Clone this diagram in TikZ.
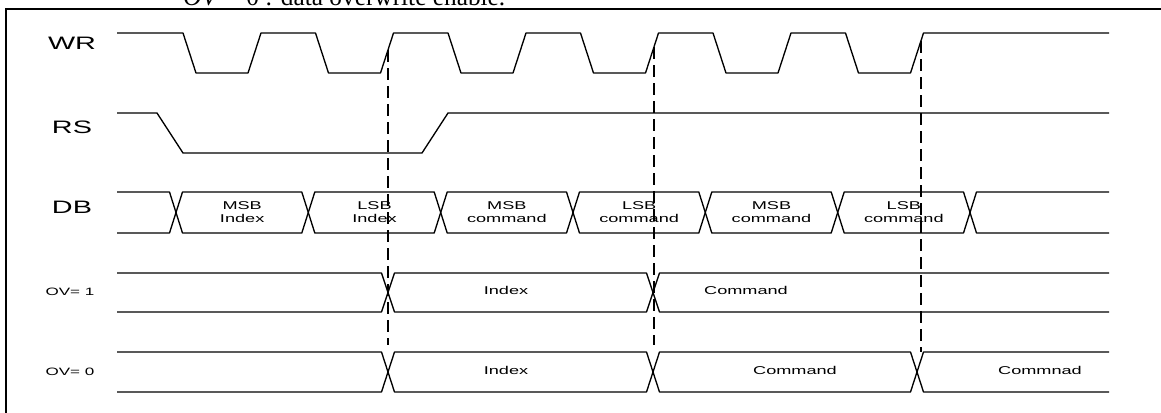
\documentclass[tikz,border=0pt]{standalone}
\usepackage{fontspec}
\setmainfont{Liberation Serif}
\newfontfamily\sigfont[FakeStretch=1.6]{Liberation Sans}

\begin{document}
\begin{tikzpicture}
    [
    x=0.75pt, y=-0.75pt,
    sig/.style={line width=1pt, line join=round},
    guide/.style={line width=1pt, dash pattern=on 9pt off 4.5pt},
    signame/.style={font=\sigfont\fontsize{13.5}{16}\selectfont},
    ovname/.style={font=\sigfont\fontsize{8}{10}\selectfont},
    cell/.style={font=\sigfont\fontsize{8.5}{9.75}\selectfont, align=center, inner sep=0pt}
    ]
    \useasboundingbox (0,0) rectangle (1161,412);

    % caption line cut by the frame, and the frame
    \node (caption) at (183,5) [anchor=base west, inner sep=0pt, font=\fontsize{19}{22}\selectfont] {\textit{OV} = 0 : data overwrite enable.};
    \draw [line width=1.5pt] (1170,9) -- (6,9) -- (6,420);

    % signal names
    \node (wr) at (72,43) [signame] {WR};
    \node (rs) at (72,127) [signame] {RS};
    \node (db) at (72,207) [signame] {DB};
    \node (ov1) at (70,292) [ovname] {OV= 1};
    \node (ov0) at (70,372) [ovname] {OV= 0};

    % WR
    \draw [sig] (117,33) \foreach \k in {0,...,5} { -- ({183+132.5*\k},33) -- ({196+132.5*\k},73) -- ({248+132.5*\k},73) -- ({261+132.5*\k},33) } -- (1109,33);

    % RS
    \draw [sig] (117,113) -- (157,113) -- (183,153) -- (422,153) -- (448,113) -- (1109,113);

    % DB
    \draw [sig] (117,192) -- (169.5,192) -- (176,212.5) -- (169.5,233) -- (117,233);
    \foreach \a/\b/\n/\t in {176/308.3/msbi/{MSB\\Index}, 308.3/440.7/lsbi/{LSB\\Index}, 440.7/573/msbca/{MSB\\command}, 573/705.3/lsbca/{LSB\\command}, 705.3/837.7/msbcb/{MSB\\command}, 837.7/970/lsbcb/{LSB\\command}}
    {
      \draw [sig] (\a,212.5) -- (\a+6.5,192) -- (\b-6.5,192) -- (\b,212.5) -- (\b-6.5,233) -- (\a+6.5,233) -- cycle;
      \node (\n) at ({(\a+\b)/2},212) [cell] {\t};
    }
    \draw [sig] (1109,192) -- (976.5,192) -- (970,212.5) -- (976.5,233) -- (1109,233);

    % OV = 1
    \draw [sig] (117,273) -- (381.5,273) -- (388,292.5) -- (381.5,312) -- (117,312);
    \draw [sig] (388,292.5) -- (394.5,273) -- (646.5,273) -- (653,292.5) -- (646.5,312) -- (394.5,312) -- cycle;
    \draw [sig] (1109,273) -- (659.5,273) -- (653,292.5) -- (659.5,312) -- (1109,312);
    \node (idxa) at (506,290) [cell] {Index};
    \node (cmda) at (746,290) [cell] {Command};

    % OV = 0
    \draw [sig] (117,352) -- (381.5,352) -- (388,372) -- (381.5,392) -- (117,392);
    \draw [sig] (388,372) -- (394.5,352) -- (646.5,352) -- (653,372) -- (646.5,392) -- (394.5,392) -- cycle;
    \draw [sig] (653,372) -- (659.5,352) -- (910.5,352) -- (917,372) -- (910.5,392) -- (659.5,392) -- cycle;
    \draw [sig] (1109,352) -- (923.5,352) -- (917,372) -- (923.5,392) -- (1109,392);
    \node (idxb) at (506,370) [cell] {Index};
    \node (cmdb) at (795,370) [cell] {Command};
    \node (cmdc) at (1040,370) [cell] {Commnad};

    % dashed guides from the WR rising edges
    \coordinate (ga) at (388,50);
    \coordinate (gb) at (654,47);
    \coordinate (gc) at (921,41);
    \coordinate (ha) at (388,345);
    \coordinate (hb) at (654,345);
    \coordinate (hc) at (921,352);
    \draw [guide] (ga) -- (ha);
    \draw [guide] (gb) -- (hb);
    \draw [guide] (gc) -- (hc);
\end{tikzpicture}
\end{document}
